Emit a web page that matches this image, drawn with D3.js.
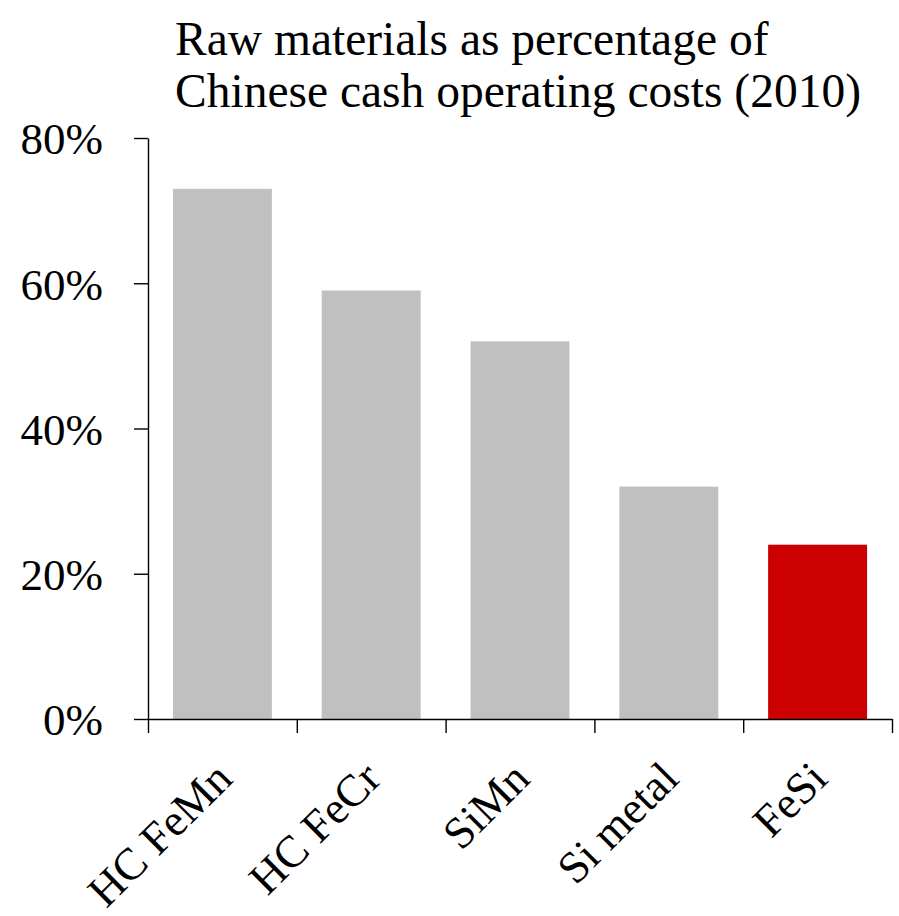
<!DOCTYPE html>
<html>
<head>
<meta charset="utf-8">
<script src="https://cdn.jsdelivr.net/npm/d3@7"></script>
<style>
  html, body { margin: 0; padding: 0; background: #fff; }
  svg { display: block; }
  text { font-family: "Liberation Serif", "Times New Roman", serif; fill: #000; }
</style>
</head>
<body>
<svg id="chart" width="899" height="916"></svg>
<script>
// Raw materials share of Chinese cash operating costs, 2010
const categories = ["HC FeMn", "HC FeCr", "SiMn", "Si metal", "FeSi"];
const values = [0.73, 0.59, 0.52, 0.32, 0.24];
const highlighted = ["FeSi"];
const yTicks = [0, 0.2, 0.4, 0.6, 0.8];
const titleLines = ["Raw materials as percentage of", "Chinese cash operating costs (2010)"];

const svg = d3.select("#chart");
const plotLeft = 148, plotRight = 892, plotTop = 138, plotBottom = 719;

const x = d3.scaleBand()
  .domain(categories)
  .range([plotLeft, plotRight])
  .paddingInner(0.335)
  .paddingOuter(0.1675);

const y = d3.scaleLinear().domain([0, 0.8]).range([plotBottom, plotTop]);

// bars
svg.append("g")
  .selectAll("rect")
  .data(categories)
  .join("rect")
  .attr("x", d => x(d))
  .attr("width", x.bandwidth())
  .attr("y", (d, i) => y(values[i]))
  .attr("height", (d, i) => y(0) - y(values[i]))
  .attr("fill", d => highlighted.includes(d) ? "#cc0000" : "#c0c0c0");

// y axis
const yAxis = svg.append("g")
  .attr("transform", `translate(${plotLeft},0)`)
  .call(d3.axisLeft(y)
    .tickValues(yTicks)
    .tickFormat(d3.format(".0%"))
    .tickSizeInner(14)
    .tickSizeOuter(0)
    .tickPadding(31));
yAxis.selectAll("text")
  .style("font-size", "45px")
  .attr("dy", "0.35em");

// x axis: ticks on category boundaries
const boundary = d3.scaleLinear().domain([0, categories.length]).range([plotLeft, plotRight]);
svg.append("g")
  .attr("transform", `translate(0,${plotBottom})`)
  .call(d3.axisBottom(boundary)
    .tickValues(d3.range(categories.length + 1))
    .tickFormat("")
    .tickSizeInner(14)
    .tickSizeOuter(0));

svg.selectAll(".domain, .tick line")
  .attr("stroke", "#000")
  .attr("stroke-width", 1.4);

// rotated category labels
svg.append("g")
  .selectAll("text")
  .data(categories)
  .join("text")
  .attr("transform", d => `translate(${x(d) + x.bandwidth() / 2 + 12},${plotBottom + 62}) rotate(-45)`)
  .attr("text-anchor", "end")
  .style("font-size", "45px")
  .text(d => d);

// title
svg.append("g")
  .selectAll("text")
  .data(titleLines)
  .join("text")
  .attr("x", 175)
  .attr("y", (d, i) => 55 + i * 52)
  .style("font-size", "47.5px")
  .text(d => d);
</script>
</body>
</html>
